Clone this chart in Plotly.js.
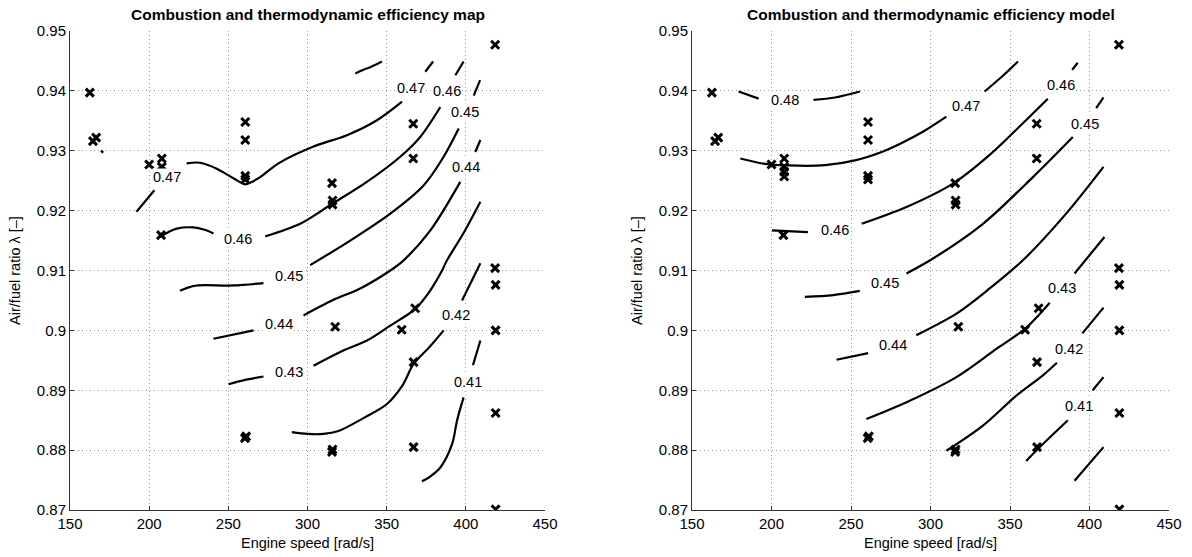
<!DOCTYPE html>
<html>
<head>
<meta charset="utf-8">
<script src="https://cdn.plot.ly/plotly-3.0.1.min.js"></script>
<style>html,body{margin:0;padding:0;background:#fff;}#chart{width:1192px;height:557px;}</style>
</head>
<body>
<div id="chart"></div>
<script>
// ---- Axis ticks ----
const xTicks = [150, 200, 250, 300, 350, 400, 450];
const yTicks = [0.87, 0.88, 0.89, 0.9, 0.91, 0.92, 0.93, 0.94, 0.95];

// ---- Measured operating points (engine speed, lambda) ----
const ptsSpeed = [162.5, 164.5, 166.5, 200, 208, 208, 208, 208, 207.5,
  260.7, 260.7, 260.7, 260.7, 315.5, 315.8, 315.8, 366.8, 366.8,
  418.5, 418.5, 418.8, 418.8, 418.8, 418.8, 317.5, 359.5, 368, 367,
  260.5, 261.2, 315.5, 315.8, 367];
const ptsLambda = [0.9397, 0.9316, 0.9322, 0.9277, 0.9287, 0.9273, 0.9265, 0.9257, 0.9159,
  0.9348, 0.9318, 0.9258, 0.9252, 0.9246, 0.9217, 0.9210, 0.9345, 0.9287,
  0.9477, 0.9104, 0.9076, 0.9000, 0.8862, 0.8701, 0.9006, 0.9001, 0.9037, 0.8947,
  0.8820, 0.8823, 0.8797, 0.8801, 0.8805];

// ---- Map (left) contour segments: [speed, lambda] ----
const map048a = [[330.2,0.9429],[336,0.9436],[340,0.9440],[347,0.9449]];
const map047a = [[192,0.9198],[203.3,0.9234]];
const map047b = [[223.7,0.9279],[232.2,0.9280],[242.7,0.9270],[253.2,0.9254],[260.6,0.9244],[264,0.9247],[270.1,0.9256],[281.7,0.9279],[303.8,0.9307],[324.9,0.9326],[343.9,0.9351],[359.7,0.9382]];
const map047c = [[374.4,0.9432],[379.3,0.9449]];
const map047d = [[169.5,0.9300],[171,0.9297]];
const map046a = [[206.9,0.9156],[212,0.9164],[217.4,0.9170],[227.9,0.9172],[235,0.9168],[240.6,0.9162]];
const map046b = [[273.3,0.9157],[295.4,0.9178],[315.4,0.9211],[337.5,0.9248],[358.6,0.9290],[371.2,0.9323],[383.9,0.9373]];
const map046c = [[393.4,0.9426],[398.6,0.9449]];
const map045a = [[219.5,0.9066],[224,0.9071],[230.1,0.9075],[253.2,0.9075],[272.2,0.9079]];
const map045b = [[301.7,0.9109],[327,0.9150],[352.3,0.9195],[373.3,0.9242],[386,0.9290],[395.5,0.9337]];
const map045c = [[405,0.9392],[409,0.9418]];
const map044a = [[240.6,0.8986],[265.9,0.9000]];
const map044b = [[297.5,0.9025],[316.4,0.9051],[333.3,0.9070],[352.3,0.9100],[360.7,0.9117],[377.6,0.9167],[396.5,0.9248]];
const map044c = [[406,0.9298],[409.2,0.9318]];
const map043a = [[250.1,0.8910],[260,0.8917],[272.2,0.8923]];
const map043b = [[303.8,0.8941],[320.7,0.8964],[337.5,0.8983],[352.3,0.9008],[368.1,0.9036],[377.6,0.9067],[385,0.9100],[388.1,0.9117],[398,0.9160],[409.2,0.9215]];
const map042a = [[290.1,0.8830],[300,0.8827],[310.1,0.8827],[319.6,0.8832],[335,0.8853],[350.2,0.8877],[360,0.8908],[367,0.8944],[377,0.8972],[386,0.9000]];
const map042b = [[397.6,0.9050],[409.2,0.9112]];
const map041a = [[404.5,0.8942],[409.2,0.8983]];
const map041b = [[398.6,0.8888],[394.5,0.8850],[391.3,0.8810],[383.9,0.8771],[377,0.8755],[372.3,0.8748]];
const mapLabels = [['0.47',211,0.9256],['0.47',365.5,0.9405],['0.46',256.4,0.9153],['0.46',388.1,0.9400],
  ['0.45',288,0.9090],['0.45',399.7,0.9365],['0.44',281.7,0.9010],['0.44',400.2,0.9273],
  ['0.43',288,0.8930],['0.42',394,0.9025],['0.41',401.5,0.8914]];

// ---- Model (right) contour segments ----
const mod048a = [[179.3,0.9399],[191.9,0.9387]];
const mod048b = [[226.4,0.9385],[240,0.9389],[255.7,0.9399]];
const mod047a = [[180.4,0.9287],[196,0.9278],[217,0.9275],[233.7,0.9276],[252.6,0.9284],[269.3,0.9298],[281.9,0.9313],[296,0.9333],[310,0.9357]];
const mod047b = [[334,0.9399],[345,0.9424],[355,0.9449]];
const mod046a = [[200.3,0.9167],[222.9,0.9164]];
const mod046b = [[256.7,0.9178],[284.9,0.9206],[314.1,0.9245],[337.2,0.9293],[358.1,0.9346],[373.8,0.9387]];
const mod046c = [[389.1,0.9435],[392.6,0.9447]];
const mod045a = [[221,0.9056],[238.8,0.9059],[255.5,0.9066]];
const mod045b = [[284.9,0.9095],[301.6,0.9120],[333,0.9178],[364.4,0.9256],[389.5,0.9323]];
const mod045c = [[404.2,0.9371],[408.8,0.9389]];
const mod044a = [[240.9,0.8951],[260.8,0.8962]];
const mod044b = [[291.1,0.8992],[316.3,0.9028],[337.2,0.9070],[358.1,0.9117],[385.3,0.9195],[408.8,0.9273]];
const mod043a = [[259.7,0.8852],[284.9,0.8880],[316.3,0.8922],[341.4,0.8969],[359.2,0.9002],[368.6,0.9027],[375,0.9046]];
const mod043b = [[390.6,0.9095],[409.4,0.9156]];
const mod042a = [[310,0.8799],[333,0.8841],[354,0.8891],[370.7,0.8925],[379.5,0.8946]];
const mod042b = [[395.5,0.8995],[408.8,0.9038]];
const mod041a = [[360.2,0.8782],[367.5,0.8802],[386.4,0.8850]];
const mod041b = [[402,0.8900],[408.8,0.8922]];
const mod040a = [[390.6,0.8749],[408.8,0.8805]];
const modLabels = [['0.48',208.6,0.9385],['0.47',322.6,0.9375],['0.46',240,0.9168],['0.46',382.2,0.9410],
  ['0.45',271.2,0.9079],['0.45',396.9,0.9344],['0.44',276.5,0.8975],['0.43',382.8,0.9070],
  ['0.42',387.4,0.8969],['0.41',393.7,0.8873]];

const mapSegs = [map048a,map047a,map047b,map047c,map047d,map046a,map046b,map046c,map045a,map045b,map045c,
  map044a,map044b,map044c,map043a,map043b,map042a,map042b,map041a,map041b];
const modSegs = [mod048a,mod048b,mod047a,mod047b,mod046a,mod046b,mod046c,mod045a,mod045b,mod045c,
  mod044a,mod044b,mod043a,mod043b,mod042a,mod042b,mod041a,mod041b,mod040a];

const FONT = 'Liberation Sans, Arial, Helvetica, sans-serif';
const traces = [];
function addSegs(segs, xa, ya) {
  segs.forEach(s => traces.push({
    type: 'scatter', mode: 'lines', xaxis: xa, yaxis: ya,
    x: s.map(p => p[0]), y: s.map(p => p[1]),
    line: {color: '#000', width: 2.2, shape: 'spline', smoothing: 0.9}, hoverinfo: 'skip', showlegend: false
  }));
}
addSegs(mapSegs, 'x', 'y');
addSegs(modSegs, 'x2', 'y2');
[['x','y'],['x2','y2']].forEach(([xa, ya]) => traces.push({
  type: 'scatter', mode: 'markers', xaxis: xa, yaxis: ya,
  x: ptsSpeed, y: ptsLambda, showlegend: false,
  marker: {symbol: 'x-thin', size: 8, color: '#000', line: {color: '#000', width: 3}}
}));

const annotations = [];
function addLabels(lbls, xr, yr) {
  lbls.forEach(l => annotations.push({
    xref: xr, yref: yr, x: l[1], y: l[2], text: l[0], showarrow: false,
    xanchor: 'center', yanchor: 'middle',
    bgcolor: '#fff', borderpad: 0, font: {family: FONT, size: 14.5, color: '#000'}
  }));
}
addLabels(mapLabels, 'x', 'y');
addLabels(modLabels, 'x2', 'y2');

const xDomL = [70/1192, 545/1192], xDomR = [692/1192, 1169/1192];
const yDom = [47/557, 526/557];
annotations.push({xref:'paper', yref:'paper', x:(xDomL[0]+xDomL[1])/2, y:(557-15)/557, xanchor:'center', yanchor:'middle',
  text:'<b>Combustion and thermodynamic efficiency map</b>', showarrow:false, font:{family:FONT,size:15.5,color:'#000'}});
annotations.push({xref:'paper', yref:'paper', x:(xDomR[0]+xDomR[1])/2, y:(557-15)/557, xanchor:'center', yanchor:'middle',
  text:'<b>Combustion and thermodynamic efficiency model</b>', showarrow:false, font:{family:FONT,size:15.5,color:'#000'}});

function xAxis(dom, anchor) {
  return {domain: dom, anchor: anchor, range: [150, 450], tickvals: xTicks, ticktext: xTicks.map(String),
    showline: true, linecolor: '#333', linewidth: 1, ticks: 'inside', ticklen: 4, tickcolor: '#333',
    showgrid: true, gridcolor: '#999', griddash: '1px,3px', gridwidth: 1, zeroline: false,
    tickfont: {family: FONT, size: 15, color: '#000'},
    title: {text: 'Engine speed [rad/s]', font: {family: FONT, size: 14.5, color: '#000'}, standoff: 6}};
}
function yAxis(anchor) {
  return {domain: yDom, anchor: anchor, range: [0.87, 0.95], tickvals: yTicks, ticktext: yTicks.map(String),
    showline: true, linecolor: '#333', linewidth: 1, ticks: 'inside', ticklen: 4, tickcolor: '#333',
    showgrid: true, gridcolor: '#999', griddash: '1px,3px', gridwidth: 1, zeroline: false,
    tickfont: {family: FONT, size: 15, color: '#000'},
    title: {text: 'Air/fuel ratio λ [–]', font: {family: FONT, size: 14.5, color: '#000'}, standoff: 12}};
}

const layout = {
  width: 1192, height: 557, margin: {l: 0, r: 0, t: 0, b: 0},
  paper_bgcolor: '#fff', plot_bgcolor: '#fff', showlegend: false,
  xaxis: xAxis(xDomL, 'y'), yaxis: yAxis('x'),
  xaxis2: xAxis(xDomR, 'y2'), yaxis2: yAxis('x2'),
  annotations: annotations
};
Plotly.newPlot('chart', traces, layout, {displayModeBar: false, staticPlot: true});
</script>
</body>
</html>
